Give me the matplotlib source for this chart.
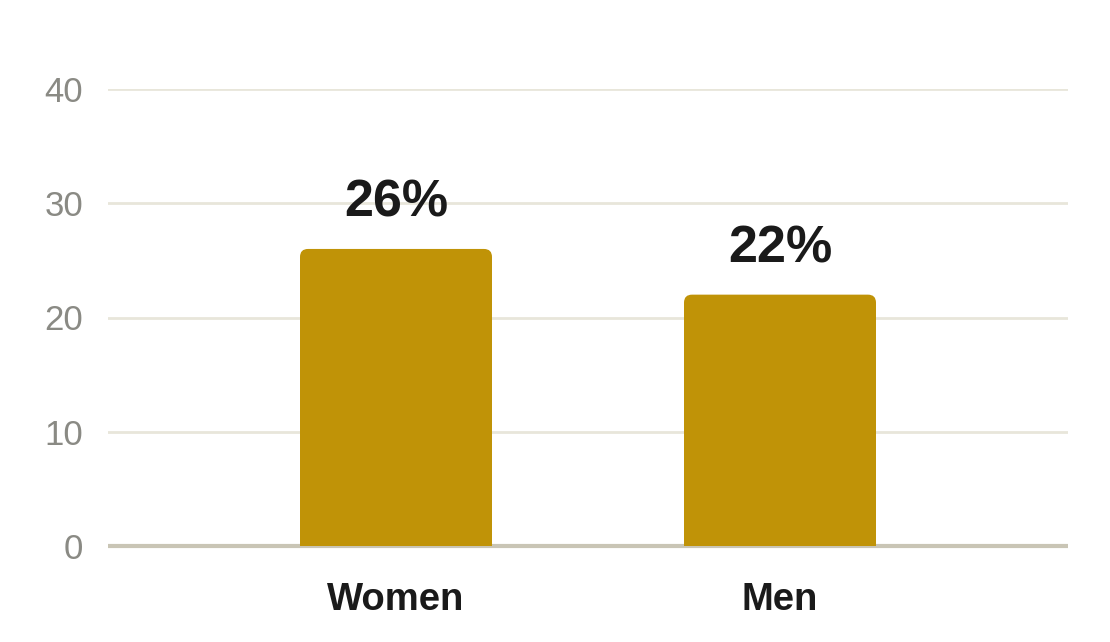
import matplotlib.pyplot as plt
from matplotlib.patches import FancyBboxPatch

plt.rcParams["font.family"] = ["Liberation Sans", "DejaVu Sans"]

# data
categories = ["Women", "Men"]
values = [26, 22]
yticks = [0, 10, 20, 30, 40]

bar_color = "#C09307"
grid_color = "#E8E6DA"
base_color = "#C9C5B5"
tick_color = "#8A8A84"
text_color = "#1A1A1A"

fig = plt.figure(figsize=(11.1, 6.42), dpi=100)
W, H = 1110, 642
ax = fig.add_axes([108 / W, (H - 546) / H, 960 / W, (546 - 89) / H])

x = list(range(len(categories)))
bars = ax.bar(x, values, width=0.5, color=bar_color, zorder=3)

ax.set_xlim(-0.75, len(categories) - 0.25)
ax.set_ylim(0, 40)
ax.set_yticks(yticks)
ax.set_yticklabels([str(t) for t in yticks])
ax.set_xticks(x)
ax.set_xticklabels(categories)

for s in ax.spines.values():
    s.set_visible(False)
ax.tick_params(axis="both", length=0)
ax.tick_params(axis="y", labelsize=25, labelcolor=tick_color, pad=18)
ax.tick_params(axis="x", labelsize=27.5, labelcolor=text_color, pad=26)
for lab in ax.get_xticklabels():
    lab.set_fontweight("bold")

ax.yaxis.grid(True, color=grid_color, linewidth=2, zorder=0)
ax.set_axisbelow(True)
ax.axhline(0, color=base_color, linewidth=3, zorder=2, clip_on=False,
           solid_capstyle="butt")

# rounded top corners: replace each bar by a rounded box extending below 0
fig.canvas.draw()
radius_px = 8
px_per_x = ax.transData.transform((1, 0))[0] - ax.transData.transform((0, 0))[0]
px_per_y = ax.transData.transform((0, 1))[1] - ax.transData.transform((0, 0))[1]
rx = radius_px / px_per_x
ry = radius_px / px_per_y
for b in bars:
    b.set_visible(False)
    patch = FancyBboxPatch((b.get_x(), -ry), b.get_width(), b.get_height() + ry,
                           boxstyle=f"round,pad=0,rounding_size={rx}",
                           mutation_aspect=ry / rx,
                           facecolor=bar_color, edgecolor="none", zorder=3)
    ax.add_patch(patch)

for xi, v in zip(x, values):
    ax.annotate(f"{v}%", (xi, v), xytext=(0, 32), textcoords="offset pixels",
                ha="center", va="baseline", fontsize=37.5, fontweight="bold",
                color=text_color, annotation_clip=False)

fig.savefig("out.png", dpi=100)
